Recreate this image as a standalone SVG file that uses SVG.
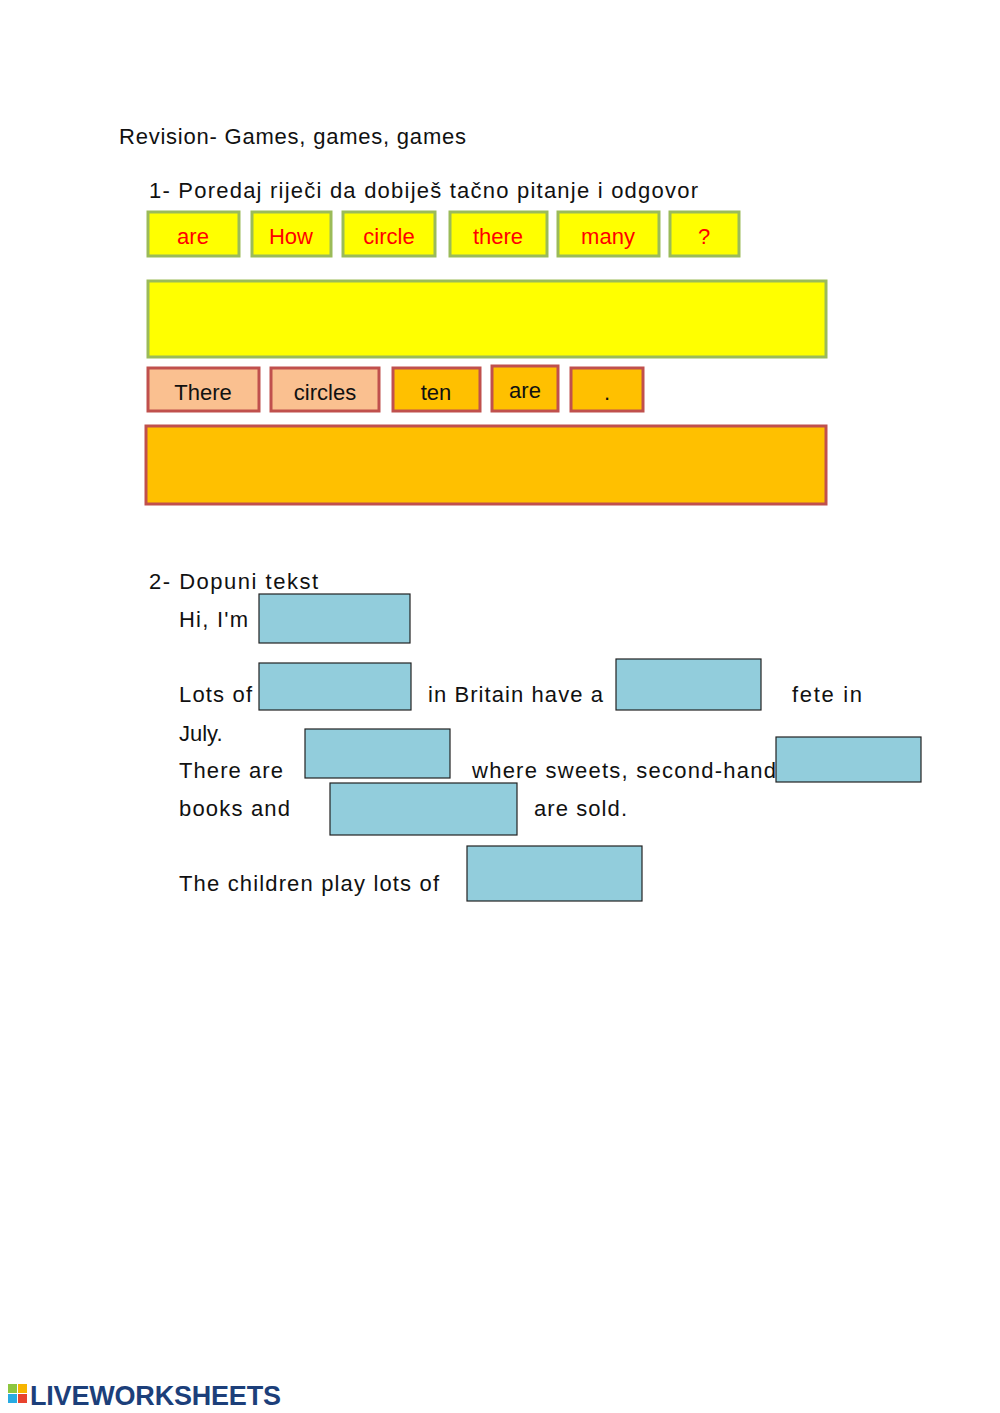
<svg xmlns="http://www.w3.org/2000/svg" width="1000" height="1413" viewBox="0 0 1000 1413">
<style>
text{font-family:"Liberation Sans",Arial,sans-serif;font-size:22px;fill:#111}
.y{fill:#ffff00;stroke:#9bbb59;stroke-width:3}
.p{fill:#fac090;stroke:#c0504d;stroke-width:3}
.o{fill:#ffc000;stroke:#c0504d;stroke-width:3}
.b{fill:#92cddc;stroke:#222;stroke-width:1.2}
.r{fill:#ff0000;text-anchor:middle}
.c{text-anchor:middle}
</style>
<rect width="1000" height="1413" fill="#fff"/>
<text x="119" y="144" textLength="347">Revision- Games, games, games</text>
<text x="149" y="198" textLength="549">1-  Poredaj riječi da dobiješ tačno pitanje i odgovor</text>
<g id="q-words">
<g id="w1"><rect class="y" x="148" y="212" width="91" height="44"/><text class="r" x="193" y="244">are</text></g>
<g id="w2"><rect class="y" x="252" y="212" width="79" height="44"/><text class="r" x="291" y="244">How</text></g>
<g id="w3"><rect class="y" x="343" y="212" width="92" height="44"/><text class="r" x="389" y="244">circle</text></g>
<g id="w4"><rect class="y" x="450" y="212" width="97" height="44"/><text class="r" x="498" y="244">there</text></g>
<g id="w5"><rect class="y" x="558" y="212" width="101" height="44"/><text class="r" x="608" y="244">many</text></g>
<g id="w6"><rect class="y" x="670" y="212" width="69" height="44"/><text class="r" x="704" y="244">?</text></g>
</g>
<g id="q-answer"><rect class="y" x="148" y="281" width="678" height="76"/></g>
<g id="a-words">
<g id="a1"><rect class="p" x="148" y="368" width="111" height="43"/><text class="c" x="203" y="400">There</text></g>
<g id="a2"><rect class="p" x="271" y="368" width="108" height="43"/><text class="c" x="325" y="400">circles</text></g>
<g id="a3"><rect class="o" x="393" y="368" width="87" height="43"/><text class="c" x="436" y="400">ten</text></g>
<g id="a4"><rect class="o" x="492" y="366" width="66" height="45"/><text class="c" x="525" y="398">are</text></g>
<g id="a5"><rect class="o" x="571" y="368" width="72" height="43"/><text class="c" x="607" y="400">.</text></g>
</g>
<g id="a-answer"><rect class="o" x="146" y="426" width="680" height="78"/></g>
<text x="149" y="589" textLength="169">2-  Dopuni tekst</text>
<text x="179" y="627" textLength="69">Hi, I'm</text>
<text x="179" y="702" textLength="73">Lots of</text>
<text x="428" y="702" textLength="175">in Britain have a</text>
<text x="792" y="702" textLength="70">fete in</text>
<text x="179" y="741">July.</text>
<text x="179" y="778" textLength="104">There are</text>
<text x="472" y="778" textLength="304">where sweets, second-hand</text>
<text x="179" y="816" textLength="111">books and</text>
<text x="534" y="816" textLength="93">are sold.</text>
<text x="179" y="891" textLength="260">The children play lots of</text>
<g id="blanks">
<rect class="b" x="259" y="594" width="151" height="49"/>
<rect class="b" x="259" y="663" width="152" height="47"/>
<rect class="b" x="616" y="659" width="145" height="51"/>
<rect class="b" x="305" y="729" width="145" height="49"/>
<rect class="b" x="776" y="737" width="145" height="45"/>
<rect class="b" x="330" y="783" width="187" height="52"/>
<rect class="b" x="467" y="846" width="175" height="55"/>
</g>
<g id="logo">
<rect x="8" y="1384" width="9" height="9" fill="#8dc63f"/><rect x="18" y="1384" width="9" height="9" fill="#f7b500"/>
<rect x="8" y="1394" width="9" height="9" fill="#29abe2"/><rect x="18" y="1394" width="9" height="9" fill="#e8432e"/>
<text x="30" y="1405" style="font-size:27px;font-weight:bold;fill:#1c3f7a" textLength="251">LIVEWORKSHEETS</text>
</g>
</svg>
